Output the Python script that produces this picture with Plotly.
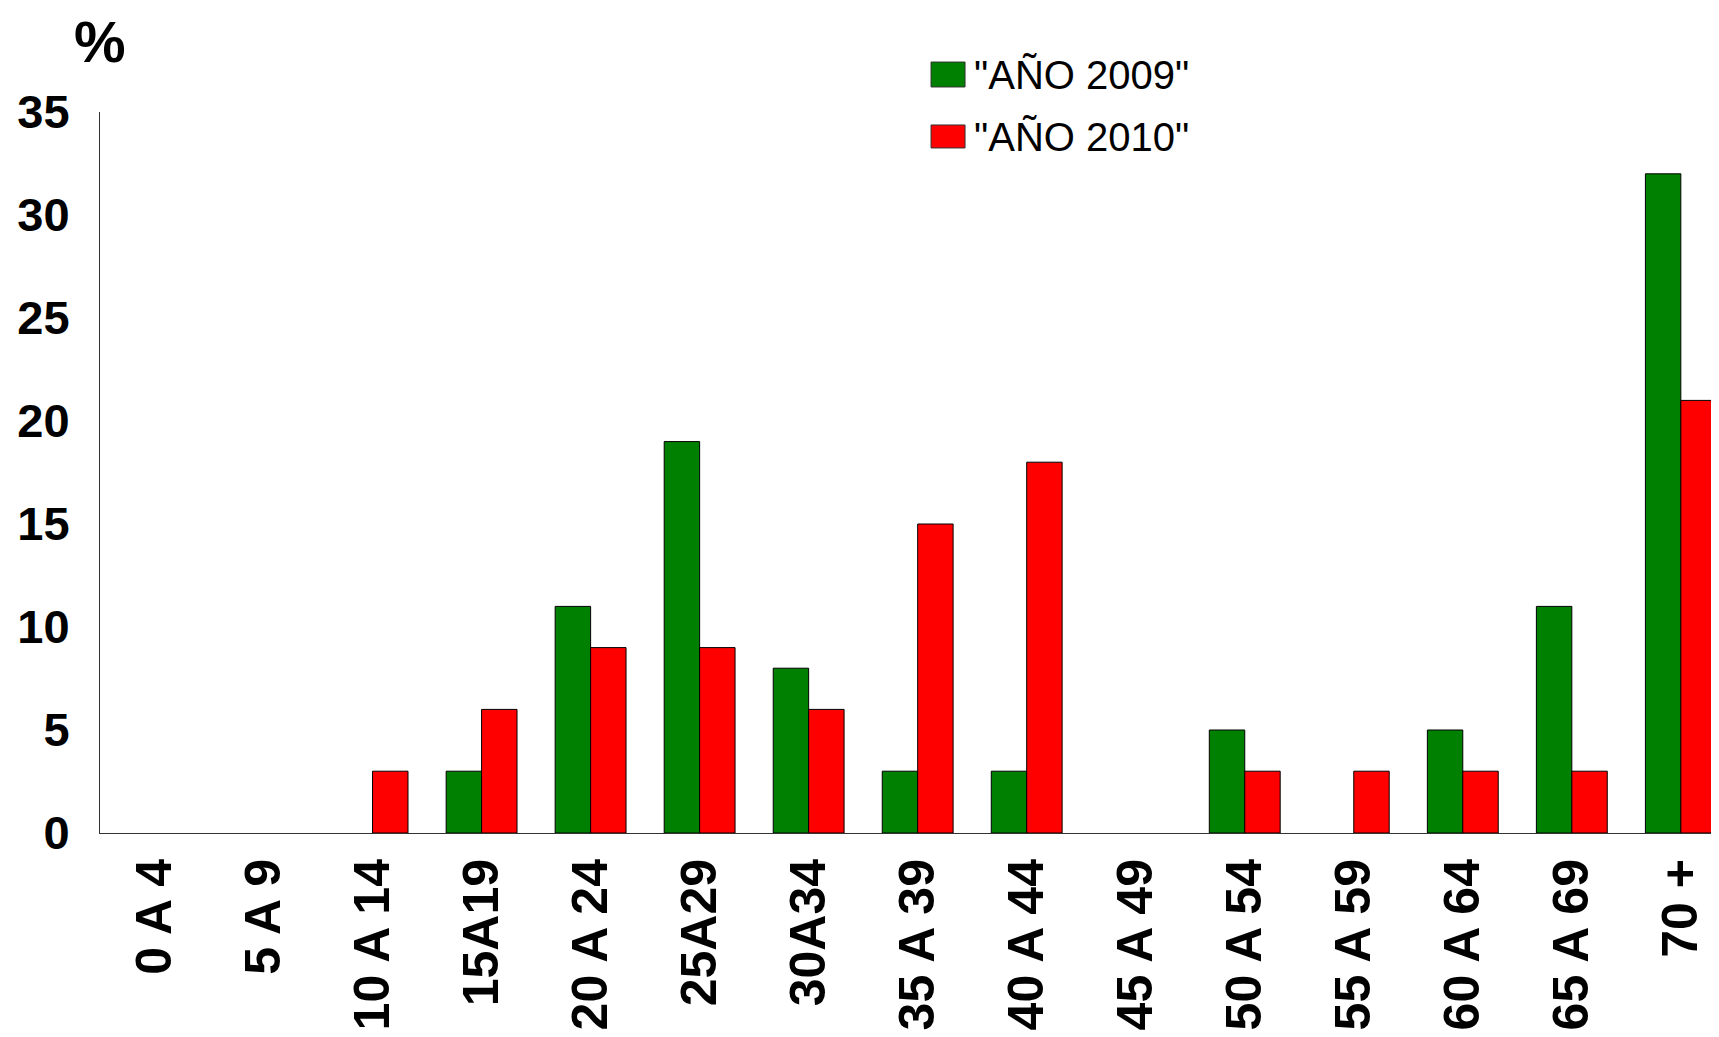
import plotly.graph_objects as go

categories = ["0 A 4", "5 A 9", "10 A 14", "15A19", "20 A 24", "25A29", "30A34",
              "35 A 39", "40 A 44", "45 A 49", "50 A 54", "55 A 59", "60 A 64",
              "65 A 69", "70 +"]
values_2009 = [0, 0, 0, 3, 11, 19, 8, 3, 3, 0, 5, 0, 5, 11, 32]
values_2010 = [0, 0, 3, 6, 9, 9, 6, 15, 18, 0, 3, 3, 3, 3, 21]
series_names = ['"AÑO 2009"', '"AÑO 2010"']
series_colors = ["#008000", "#FF0000"]
y_ticks = [0, 5, 10, 15, 20, 25, 30, 35]

FONT = "Liberation Sans, Arial, sans-serif"

fig = go.Figure()
for name, vals, col in zip(series_names, [values_2009, values_2010], series_colors):
    fig.add_trace(go.Bar(
        x=list(range(len(categories))), y=vals, name=name,
        marker=dict(color=col,
                    line=dict(color="black", width=[1 if v else 0 for v in vals])),
        showlegend=False,
    ))

fig.update_layout(
    width=1719, height=1037,
    margin=dict(l=92, r=8, t=104, b=212),
    paper_bgcolor="white", plot_bgcolor="white",
    barmode="group", bargap=0.35, bargroupgap=0,
    font=dict(family=FONT, color="black"),
    xaxis=dict(
        tickmode="array", tickvals=list(range(len(categories))), ticktext=categories,
        range=[-0.5, 14.35], tickangle=-90,
        tickfont=dict(size=50, family=FONT, weight="bold", color="black"),
        showline=True, linecolor="#333333", linewidth=1,
        ticks="", showgrid=False, zeroline=False,
        ticklabelstandoff=5, automargin=False,
    ),
    yaxis=dict(
        range=[0, 35], tickmode="array", tickvals=y_ticks,
        tickfont=dict(size=47, family=FONT, weight="bold", color="black"),
        showline=True, linecolor="#333333", linewidth=1,
        ticks="", showgrid=False, zeroline=False,
        ticklabelstandoff=20, automargin=False,
    ),
)

# "%" axis title
fig.add_annotation(text="%", xref="paper", yref="paper", x=0.0, y=1.098,
                   xanchor="center", yanchor="middle", showarrow=False,
                   font=dict(size=58, family=FONT, weight="bold", color="black"))

# custom legend
leg = [((0.5133, 0.5343), (1.0347, 1.0693), 1.0513),
       ((0.5133, 0.5343), (0.9501, 0.9820), 0.9653)]
for (name, col), ((x0, x1), (y0, y1), ty) in zip(zip(series_names, series_colors), leg):
    fig.add_shape(type="rect", xref="paper", yref="paper", x0=x0, x1=x1, y0=y0, y1=y1,
                  fillcolor=col, line=dict(color="#333333", width=1))
    fig.add_annotation(text=name, xref="paper", yref="paper", x=0.5386, y=ty,
                       xanchor="left", yanchor="middle", showarrow=False,
                       font=dict(size=40, family=FONT, color="black"))

fig.write_html("out.html")
